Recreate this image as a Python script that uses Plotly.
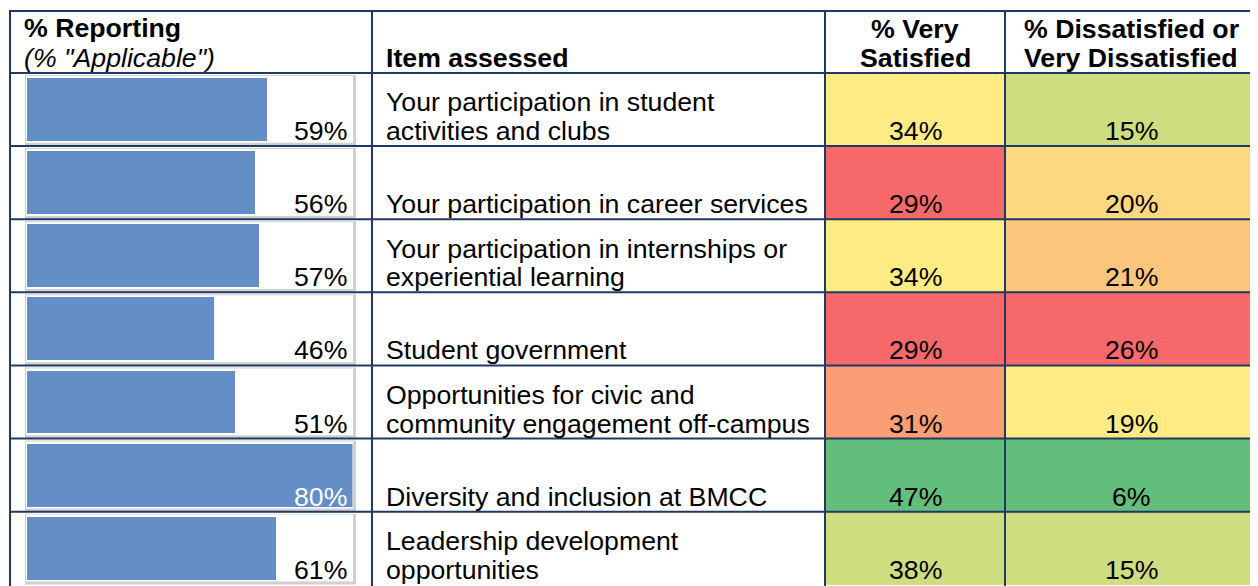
import numpy as np
import plotly.graph_objects as go

# ---------------- data ----------------
items = [
    "Your participation in student<br>activities and clubs",
    "Your participation in career services",
    "Your participation in internships or<br>experiential learning",
    "Student government",
    "Opportunities for civic and<br>community engagement off-campus",
    "Diversity and inclusion at BMCC",
    "Leadership development<br>opportunities",
]
pct_applicable = [59, 56, 57, 46, 51, 80, 61]
pct_very_satisfied = [34, 29, 34, 29, 31, 47, 38]
pct_dissatisfied = [15, 20, 21, 26, 19, 6, 15]

header_reporting = ["% Reporting", '<i>(% "Applicable")</i>']
header_item = "Item assessed"
header_satisfied = ["% Very", "Satisfied"]
header_dissatisfied = ["% Dissatisfied or", "Very Dissatisfied"]

# ---------------- layout constants ----------------
SCREEN_W, SCREEN_H = 1258, 586
OFF = 8                      # default page body margin
W, H = SCREEN_W - OFF, SCREEN_H - OFF
FONT = "Liberation Sans, Arial, sans-serif"
FS = 26.7
LINE_GAP = 28.7
GRID = "#1F3864"
BAR_BLUE = "#638EC6"
RED, YELLOW, GREEN = "#F8696B", "#FFEB84", "#63BE7B"

col_px = [10, 372, 825, 1005, 1257]
ROW_PX = 73.25
FIRST_ROW_TOP_PX = 73
HEADER_TOP_PX = 11

rows = list(range(len(items)))


def u(px):
    """screen pixel y -> row units on the y axis"""
    return (px - FIRST_ROW_TOP_PX) / ROW_PX - 0.5


def p(px):
    """screen pixel x -> paper fraction"""
    return (px - OFF) / W


y_top, y_bot = u(OFF), u(SCREEN_H + 1)
bar_x0_px, bar_x1_px = 26.5, 352.5
bar_max = max(pct_applicable)

fig = go.Figure()

# --- reporting bars
fig.add_trace(go.Bar(
    x=pct_applicable, y=rows, orientation="h", width=63 / ROW_PX,
    marker=dict(color=BAR_BLUE, line=dict(width=0)),
    xaxis="x", yaxis="y", hoverinfo="skip", showlegend=False,
))


# --- colour-scaled cells
def scale(vals, reverse=False):
    lo, hi, mid = min(vals), max(vals), float(np.median(vals))
    f = (mid - lo) / (hi - lo)
    if reverse:
        return lo, hi, [[0, GREEN], [f, YELLOW], [1, RED]]
    return lo, hi, [[0, RED], [f, YELLOW], [1, GREEN]]


for vals, ax, rev in [(pct_very_satisfied, "x2", False), (pct_dissatisfied, "x3", True)]:
    lo, hi, cs = scale(vals, rev)
    fig.add_trace(go.Heatmap(
        z=[[v] for v in vals], y=rows, xaxis=ax, yaxis="y",
        zmin=lo, zmax=hi, colorscale=cs, showscale=False, hoverinfo="skip",
    ))

shapes = []
annotations = []

# bar frames
for r in rows:
    top = r - 0.5
    shapes.append(dict(type="rect", xref="paper", yref="y", layer="below",
                       x0=p(25), x1=p(356), y0=top + 2 / ROW_PX, y1=top + 73 / ROW_PX,
                       fillcolor="#D0D0D0", line=dict(width=0)))
    shapes.append(dict(type="rect", xref="paper", yref="y", layer="below",
                       x0=p(26), x1=p(353), y0=top + 3 / ROW_PX, y1=top + 70 / ROW_PX,
                       fillcolor="white", line=dict(width=0)))

# grid lines (the table continues below the visible area)
hlines = [u(HEADER_TOP_PX)] + [r - 0.5 for r in rows]
for yy in hlines:
    shapes.append(dict(type="line", xref="paper", yref="y", layer="above",
                       x0=p(col_px[0] - 1), x1=p(col_px[-1] + 1), y0=yy, y1=yy,
                       line=dict(color=GRID, width=2)))
for xx in col_px:
    shapes.append(dict(type="line", xref="paper", yref="y", layer="above",
                       x0=p(xx), x1=p(xx), y0=u(HEADER_TOP_PX), y1=y_bot,
                       line=dict(color=GRID, width=2)))


def ann(text, x, y, xanchor, yshift=0, xref="paper", color="black", bold=False):
    annotations.append(dict(
        text=f"<b>{text}</b>" if bold else text, x=x, y=y, xref=xref, yref="y",
        xanchor=xanchor, yanchor="bottom", yshift=yshift, showarrow=False,
        font=dict(family=FONT, size=FS, color=color), borderpad=0,
    ))


# headers
ann(header_reporting[0], p(23), -0.5, "left", yshift=LINE_GAP, bold=True)
ann(header_reporting[1], p(23), -0.5, "left", yshift=-1)
ann(header_item, p(385), -0.5, "left", yshift=-1, bold=True)
for k, t in enumerate(header_satisfied):
    ann(t, 0, -0.5, "center", yshift=(len(header_satisfied) - 1 - k) * LINE_GAP - 1,
        xref="x2", bold=True)
for k, t in enumerate(header_dissatisfied):
    ann(t, 0, -0.5, "center", yshift=(len(header_dissatisfied) - 1 - k) * LINE_GAP - 1,
        xref="x3", bold=True)

# body text
for r in rows:
    lines = items[r].split("<br>")
    for k, t in enumerate(lines):
        ann(t, p(385), r + 0.5, "left", yshift=(len(lines) - 1 - k) * LINE_GAP - 1)
    bar_end_px = bar_x0_px + pct_applicable[r] / bar_max * (bar_x1_px - bar_x0_px)
    ann(f"{pct_applicable[r]}%", p(348), r + 0.5, "right", yshift=-1,
        color="white" if bar_end_px > 300 else "black")
    ann(f"{pct_very_satisfied[r]}%", 0, r + 0.5, "center", xref="x2", yshift=-1)
    ann(f"{pct_dissatisfied[r]}%", 0, r + 0.5, "center", xref="x3", yshift=-1)

hidden = dict(visible=False, showgrid=False, zeroline=False, fixedrange=True)
fig.update_layout(
    width=W, height=H, autosize=False,
    margin=dict(l=0, r=0, t=0, b=0, pad=0),
    paper_bgcolor="white", plot_bgcolor="white",
    xaxis=dict(domain=[p(bar_x0_px), p(bar_x1_px)], range=[0, bar_max], **hidden),
    xaxis2=dict(domain=[p(col_px[2]), p(col_px[3])], range=[-0.5, 0.5], **hidden),
    xaxis3=dict(domain=[p(col_px[3]), p(col_px[4])], range=[-0.5, 0.5], **hidden),
    yaxis=dict(domain=[0, 1], range=[y_bot, y_top], type="linear", **hidden),
    shapes=shapes, annotations=annotations, bargap=0, showlegend=False,
)

fig.write_html("out.html")
